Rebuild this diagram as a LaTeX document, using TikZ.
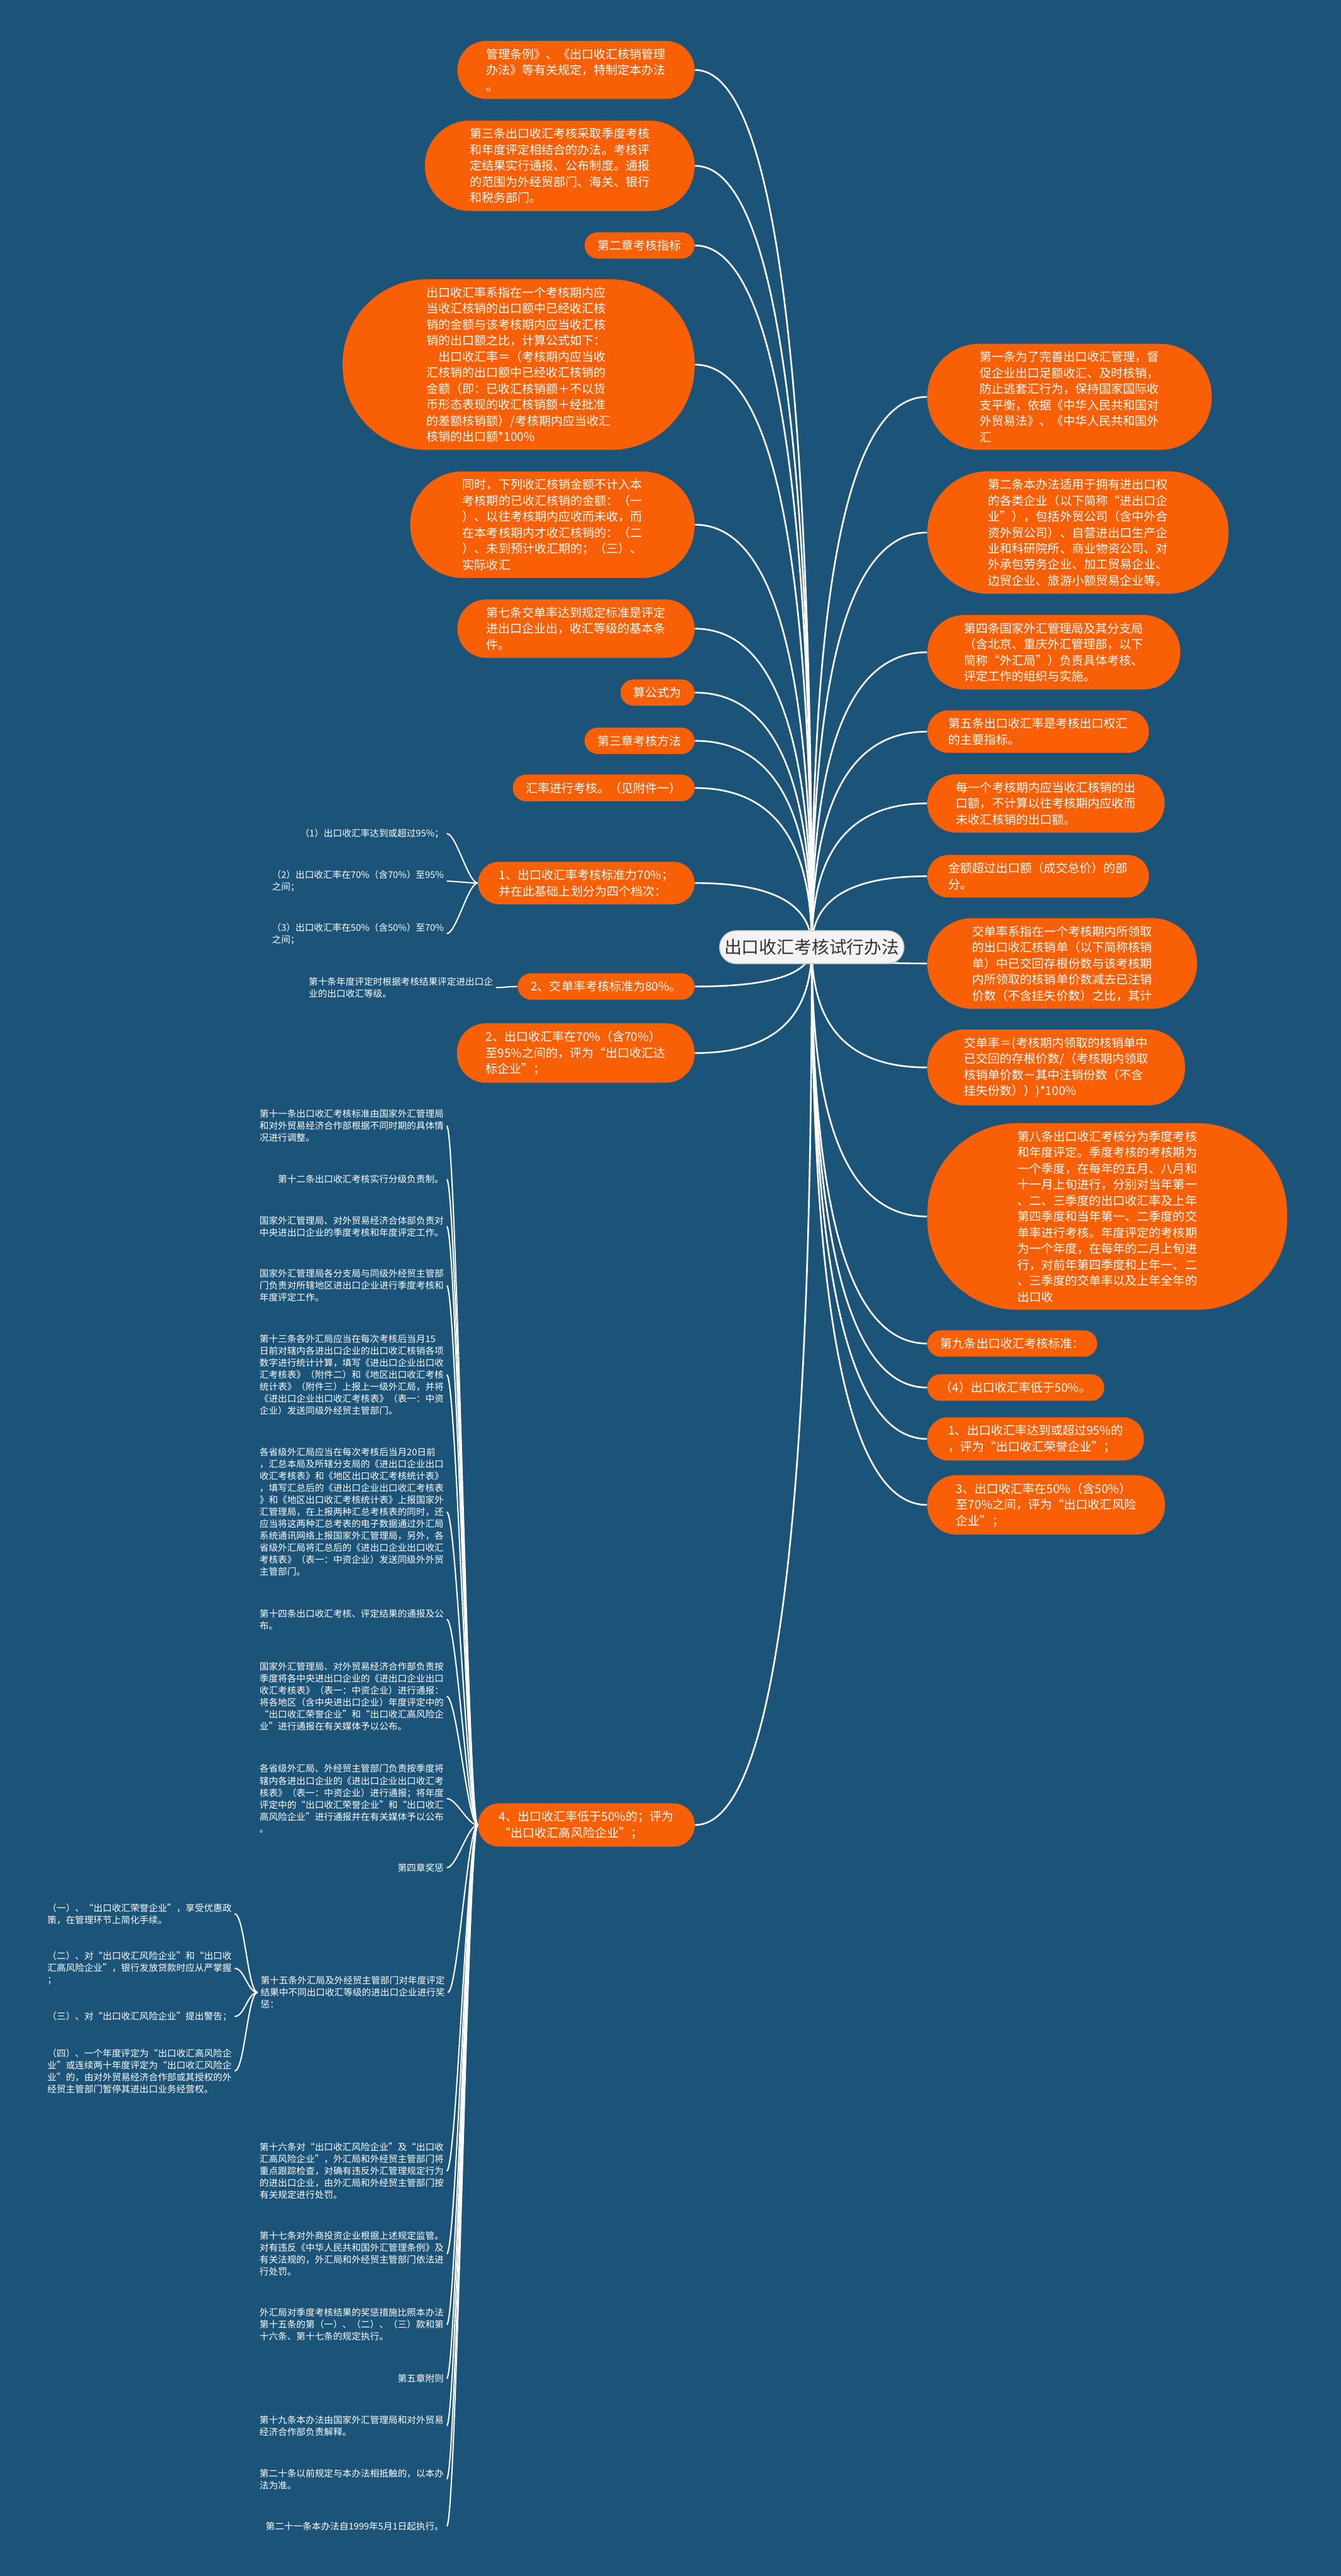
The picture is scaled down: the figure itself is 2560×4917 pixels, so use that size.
\documentclass[tikz,border=0pt]{standalone}
\usepackage{fontspec}
\setmainfont{Noto Sans CJK SC}
\usetikzlibrary{shapes.misc,calc,backgrounds}
\definecolor{mapBlue}{HTML}{1B5478}
\definecolor{mapOrange}{HTML}{F96006}
\definecolor{mapGrey}{HTML}{F3F3F3}
\definecolor{mapInk}{HTML}{333333}

\begin{document}
\begin{tikzpicture}[x=0.01cm,y=-0.01cm,
    topic/.style={rounded rectangle,fill=mapGrey,draw=gray!45,line width=0.5pt,text=mapInk,
                  font=\fontsize{9.5pt}{11pt}\selectfont,inner xsep=0.5mm,inner ysep=1.6mm},
    branch/.style={rectangle,rounded corners=#1,inner xsep=#1,inner ysep=1.45mm,
                   fill=mapOrange,text=white,align=left,
                   font=\fontsize{6.5pt}{8.7pt}\selectfont},
    lbr/.style={branch=#1,anchor=east},
    rbr/.style={branch=#1,anchor=west},
    leaf/.style={text=white,align=left,anchor=east,inner sep=0.5mm,
                 font=\fontsize{5pt}{6.5pt}\selectfont},
    link/.style={white,line width=0.9pt},
    twig/.style={white,line width=0.7pt}]

  \useasboundingbox (0,0) rectangle (2560,4917);

  \node[topic] (root) at (1550,1808) {出口收汇考核试行办法};

  % left branches
  \node[lbr=5.5mm] (l1) at (1327,133.5) {管理条例》、《出口收汇核销管理\\办法》等有关规定，特制定本办法\\。};
  \node[lbr=8.6mm] (l2) at (1327,316.5) {第三条出口收汇考核采取季度考核\\和年度评定相结合的办法。考核评\\定结果实行通报、公布制度。通报\\的范围为外经贸部门、海关、银行\\和税务部门。};
  \node[lbr=2.5mm] (l3) at (1327,468.5) {第二章考核指标};
  \node[lbr=16mm] (l4) at (1327,696) {出口收汇率系指在一个考核期内应\\当收汇核销的出口额中已经收汇核\\销的金额与该考核期内应当收汇核\\销的出口额之比，计算公式如下：\\\hspace{1em}出口收汇率＝（考核期内应当收\\汇核销的出口额中已经收汇核销的\\金额（即：已收汇核销额＋不以货\\币形态表现的收汇核销额＋经批准\\的差额核销额）/考核期内应当收汇\\核销的出口额*100\%};
  \node[lbr=10mm] (l5) at (1327,1001.5) {同时，下列收汇核销金额不计入本\\考核期的已收汇核销的金额：（一\\）、以往考核期内应收而未收，而\\在本考核期内才收汇核销的：（二\\）、未到预计收汇期的；（三）、\\实际收汇};
  \node[lbr=5.5mm] (l6) at (1327,1200) {第七条交单率达到规定标准是评定\\进出口企业出，收汇等级的基本条\\件。};
  \node[lbr=2.5mm] (l7) at (1327,1322) {算公式为};
  \node[lbr=2.5mm] (l8) at (1327,1414) {第三章考核方法};
  \node[lbr=2.5mm] (l9) at (1327,1504) {汇率进行考核。（见附件一）};
  \node[lbr=4mm] (l10) at (1327,1685.5) {1、出口收汇率考核标准力70\%；\\并在此基础上划分为四个档次：};
  \node[lbr=2.5mm] (l11) at (1327,1883) {2、交单率考核标准为80\%。};
  \node[lbr=5.5mm] (l12) at (1327,2010) {2、出口收汇率在70\%（含70\%）\\至95\%之间的，评为“出口收汇达\\标企业”；};
  \node[lbr=4mm] (l13) at (1327,3483.5) {4、出口收汇率低于50\%的；评为\\“出口收汇高风险企业”；};

  % right branches
  \node[rbr=10mm] (r1) at (1770,757.5) {第一条为了完善出口收汇管理，督\\促企业出口足额收汇、及时核销，\\防止逃套汇行为，保持国家国际收\\支平衡，依据《中华入民共和国对\\外贸易法》、《中华人民共和国外\\汇};
  \node[rbr=11.6mm] (r2) at (1770,1016.5) {第二条本办法适用于拥有进出口权\\的各类企业（以下简称“进出口企\\业”），包括外贸公司（含中外合\\资外贸公司）、自营进出口生产企\\业和科研院所、商业物资公司、对\\外承包劳务企业、加工贸易企业、\\边贸企业、旅游小额贸易企业等。};
  \node[rbr=7mm] (r3) at (1770,1245) {第四条国家外汇管理局及其分支局\\（含北京、重庆外汇管理部，以下\\简称“外汇局”）负责具体考核、\\评定工作的组织与实施。};
  \node[rbr=4mm] (r4) at (1770,1396.5) {第五条出口收汇率是考核出口权汇\\的主要指标。};
  \node[rbr=5.5mm] (r5) at (1770,1533.5) {每一个考核期内应当收汇核销的出\\口额，不计算以往考核期内应收而\\未收汇核销的出口额。};
  \node[rbr=4mm] (r6) at (1770,1672.5) {金额超过出口额（成交总价）的部\\分。};
  \node[rbr=8.6mm] (r7) at (1770,1839) {交单率系指在一个考核期内所领取\\的出口收汇核销单（以下简称核销\\单）中已交回存根份数与该考核期\\内所领取的核销单价数减去已注销\\价数（不含挂失价数）之比，其计};
  \node[rbr=7mm] (r8) at (1770,2037.5) {交单率＝(考核期内领取的核销单中\\已交回的存根价数/（考核期内领取\\核销单价数－其中注销份数（不含\\挂失份数））)*100\%};
  \node[rbr=17.2mm] (r9) at (1770,2322) {第八条出口收汇考核分为季度考核\\和年度评定。季度考核的考核期为\\一个季度，在每年的五月、八月和\\十一月上旬进行，分别对当年第一\\、二、三季度的出口收汇率及上年\\第四季度和当年第一、二季度的交\\单率进行考核。年度评定的考核期\\为一个年度，在每年的二月上旬进\\行，对前年第四季度和上年一、二\\、三季度的交单率以及上年全年的\\出口收};
  \node[rbr=2.5mm] (r10) at (1770,2564.5) {第九条出口收汇考核标准：};
  \node[rbr=2.5mm] (r11) at (1770,2648.5) {（4）出口收汇率低于50\%。};
  \node[rbr=4mm] (r12) at (1770,2746.5) {1、出口收汇率达到或超过95\%的\\，评为“出口收汇荣誉企业”；};
  \node[rbr=5.5mm] (r13) at (1770,2872.5) {3、出口收汇率在50\%（含50\%）\\至70\%之间，评为“出口收汇风险\\企业”；};

  % leaves
  \node[leaf] (a1) at (853,1591) {（1）出口收汇率达到或超过95\%；};
  \node[leaf] (a2) at (853,1682) {（2）出口收汇率在70\%（含70\%）至95\%\\之间；};
  \node[leaf] (a3) at (853,1782) {（3）出口收汇率在50\%（含50\%）至70\%\\之间；};
  \node[leaf] (b1) at (947,1885) {第十条年度评定时根据考核结果评定进出口企\\业的出口收汇等级。};

  \node[leaf] (c1) at (853,2149) {第十一条出口收汇考核标准由国家外汇管理局\\和对外贸易经济合作部根据不同时期的具体情\\况进行调整。};
  \node[leaf] (c2) at (853,2251) {第十二条出口收汇考核实行分级负责制。};
  \node[leaf] (c3) at (853,2341) {国家外汇管理局、对外贸易经济合体部负责对\\中央进出口企业的季度考核和年度评定工作。};
  \node[leaf] (c4) at (853,2454) {国家外汇管理局各分支局与同级外经贸主管部\\门负责对所辖地区进出口企业进行季度考核和\\年度评定工作。};
  \node[leaf] (c5) at (853,2624) {第十三条各外汇局应当在每次考核后当月15\\日前对辖内各进出口企业的出口收汇核销各项\\数字进行统计计算，填写《进出口企业出口收\\汇考核表》（附件二）和《地区出口收汇考核\\统计表》（附件三）上报上一级外汇局，并将\\《进出口企业出口收汇考核表》（表一：中资\\企业）发送同级外经贸主管部门。};
  \node[leaf] (c6) at (853,2886) {各省级外汇局应当在每次考核后当月20日前\\，汇总本局及所辖分支局的《进出口企业出口\\收汇考核表》和《地区出口收汇考核统计表》\\，填写汇总后的《进出口企业出口收汇考核表\\》和《地区出口收汇考核统计表》上报国家外\\汇管理局，在上报两种汇总考核表的同时，还\\应当将这两种汇总考表的电子数据通过外汇局\\系统通讯网络上报国家外汇管理局，另外，各\\省级外汇局将汇总后的《进出口企业出口收汇\\考核表》（表一：中资企业）发送同级外外贸\\主管部门。};
  \node[leaf] (c7) at (853,3091) {第十四条出口收汇考核、评定结果的通报及公\\布。};
  \node[leaf] (c8) at (853,3238) {国家外汇管理局、对外贸易经济合作部负责按\\季度将各中央进出口企业的《进出口企业出口\\收汇考核表》（表一：中资企业）进行通报：\\将各地区（含中央进出口企业）年度评定中的\\“出口收汇荣誉企业”和“出口收汇高风险企\\业”进行通报在有关媒体予以公布。};
  \node[leaf] (c9) at (853,3433) {各省级外汇局、外经贸主管部门负责按季度将\\辖内各进出口企业的《进出口企业出口收汇考\\核表》（表一：中资企业）进行通报；将年度\\评定中的“出口收汇荣誉企业”和“出口收汇\\高风险企业”进行通报并在有关媒体予以公布\\。};
  \node[leaf] (c10) at (853,3565) {第四章奖惩};
  \node[leaf] (c11) at (855,3803) {第十五条外汇局及外经贸主管部门对年度评定\\结果中不同出口收汇等级的进出口企业进行奖\\惩：};
  \node[leaf] (c12) at (853,4144) {第十六条对“出口收汇风险企业”及“出口收\\汇高风险企业”，外汇局和外经贸主管部门将\\重点跟踪检查，对确有违反外汇管理规定行为\\的进出口企业，由外汇局和外经贸主管部门按\\有关规定进行处罚。};
  \node[leaf] (c13) at (853,4302) {第十七条对外商投资企业根据上述规定监管。\\对有违反《中华人民共和国外汇管理条例》及\\有关法规的，外汇局和外经贸主管部门依法进\\行处罚。};
  \node[leaf] (c14) at (853,4437) {外汇局对季度考核结果的奖惩措施比照本办法\\第十五条的第（一）、（二）、（三）款和第\\十六条、第十七条的规定执行。};
  \node[leaf] (c15) at (853,4540) {第五章附则};
  \node[leaf] (c16) at (853,4630) {第十九条本办法由国家外汇管理局和对外贸易\\经济合作部负责解释。};
  \node[leaf] (c17) at (853,4732) {第二十条以前规定与本办法相抵触的，以本办\\法为准。};
  \node[leaf] (c18) at (853,4822) {第二十一条本办法自1999年5月1日起执行。};

  \node[leaf] (d1) at (448,3653) {（一）、“出口收汇荣誉企业”，享受优惠政\\策，在管理环节上简化手续。};
  \node[leaf] (d2) at (448,3757) {（二）、对“出口收汇风险企业”和“出口收\\汇高风险企业”，银行发放贷款时应从严掌握\\；};
  \node[leaf] (d3) at (448,3849) {（三）、对“出口收汇风险企业”提出警告；};
  \node[leaf] (d4) at (448,3953) {（四）、一个年度评定为“出口收汇高风险企\\业”或连续两十年度评定为“出口收汇风险企\\业”的，由对外贸易经济合作部或其授权的外\\经贸主管部门暂停其进出口业务经营权。};

  \begin{scope}[on background layer]
    \fill[mapBlue] (0,0) rectangle (2560,4917);
    \foreach \n in {l1,l2,l3,l4,l5,l6,l7,l8,l9,l10,l11,l12,l13}
      \draw[link] (root.center) .. controls ($(root.center)!0.67!(root.center |- \n.east)$)
        and ($(\n.east)!0.67!(root.center |- \n.east)$) .. (\n.east);
    \foreach \n in {r1,r2,r3,r4,r5,r6,r7,r8,r9,r10,r11,r12,r13}
      \draw[link] (root.center) .. controls ($(root.center)!0.67!(root.center |- \n.west)$)
        and ($(\n.west)!0.67!(root.center |- \n.west)$) .. (\n.west);
  \end{scope}

  \foreach \c in {a1,a2,a3}
    \draw[twig] (l10.west) .. controls +(-18,0) and +(18,0) .. (\c.east);
  \draw[twig] (l11.west) .. controls +(-18,0) and +(18,0) .. (b1.east);
  \foreach \c in {c1,c2,c3,c4,c5,c6,c7,c8,c9,c10,c11,c12,c13,c14,c15,c16,c17,c18}
    \draw[twig] (l13.west) .. controls +(-19,0) and +(19,0) .. (\c.east);
  \foreach \c in {d1,d2,d3,d4}
    \draw[twig] (c11.west) .. controls +(-19,0) and +(19,0) .. (\c.east);
\end{tikzpicture}
\end{document}
